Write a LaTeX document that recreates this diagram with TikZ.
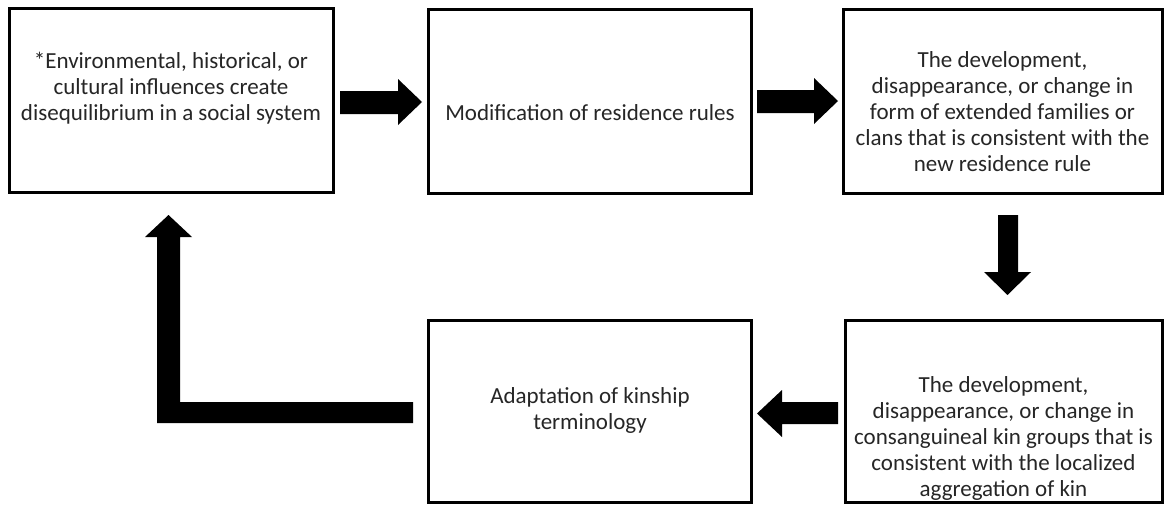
\documentclass[tikz,border=0pt]{standalone}
\usepackage{fontspec}
\setmainfont{Carlito}
\begin{document}
\begin{tikzpicture}[x=1pt,y=-1pt,
  box/.style={draw=black,line width=3pt,fill=white,rectangle,inner sep=0pt},
  txt/.style={align=center,text=black!85,font=\fontsize{23}{26}\selectfont,inner sep=0pt},
  blk/.style={fill=black}]
\useasboundingbox (0,0) rectangle (1164,504);
\fill[white] (0,0) rectangle (1164,504);
% boxes
\node[box,minimum width=324pt,minimum height=184pt] (b1) at (171,100) {};
\node[box,minimum width=323pt,minimum height=184pt] (b2) at (590,101) {};
\node[box,minimum width=319pt,minimum height=184pt] (b3) at (1002.5,101) {};
\node[box,minimum width=317pt,minimum height=182pt] (b4) at (1003.5,411) {};
\node[box,minimum width=323pt,minimum height=182pt] (b5) at (590,411) {};
% texts
\node[txt] (t1) at (171,88) {*Environmental, historical, or\\cultural influences create\\disequilibrium in a social system};
\node[txt] (t2) at (590,113) {Modification of residence rules};
\node[txt] (t3) at (1002.5,112) {The development,\\disappearance, or change in\\form of extended families or\\clans that is consistent with the\\new residence rule};
\node[txt] (t4) at (1003.5,438) {The development,\\disappearance, or change in\\consanguineal kin groups that is\\consistent with the localized\\aggregation of kin};
\node[txt] (t5) at (590,410) {Adaptation of kinship\\terminology};
% block arrows
\fill[blk] (340,91) -- (398,91) -- (398,79) -- (422,102) -- (398,125) -- (398,114) -- (340,114) -- cycle;
\fill[blk] (757,90) -- (814,90) -- (814,78) -- (838,101) -- (814,124) -- (814,113) -- (757,113) -- cycle;
\fill[blk] (998,215) -- (1018,215) -- (1018,272) -- (1031,272) -- (1007.5,295) -- (984,272) -- (998,272) -- cycle;
\fill[blk] (838,402) -- (782,402) -- (782,390) -- (757,413.5) -- (782,437) -- (782,424) -- (838,424) -- cycle;
\fill[blk] (413,402) -- (413,423) -- (157,423) -- (157,237) -- (145,237) -- (168.5,215) -- (192,237) -- (180,237) -- (180,402) -- cycle;
\end{tikzpicture}
\end{document}
